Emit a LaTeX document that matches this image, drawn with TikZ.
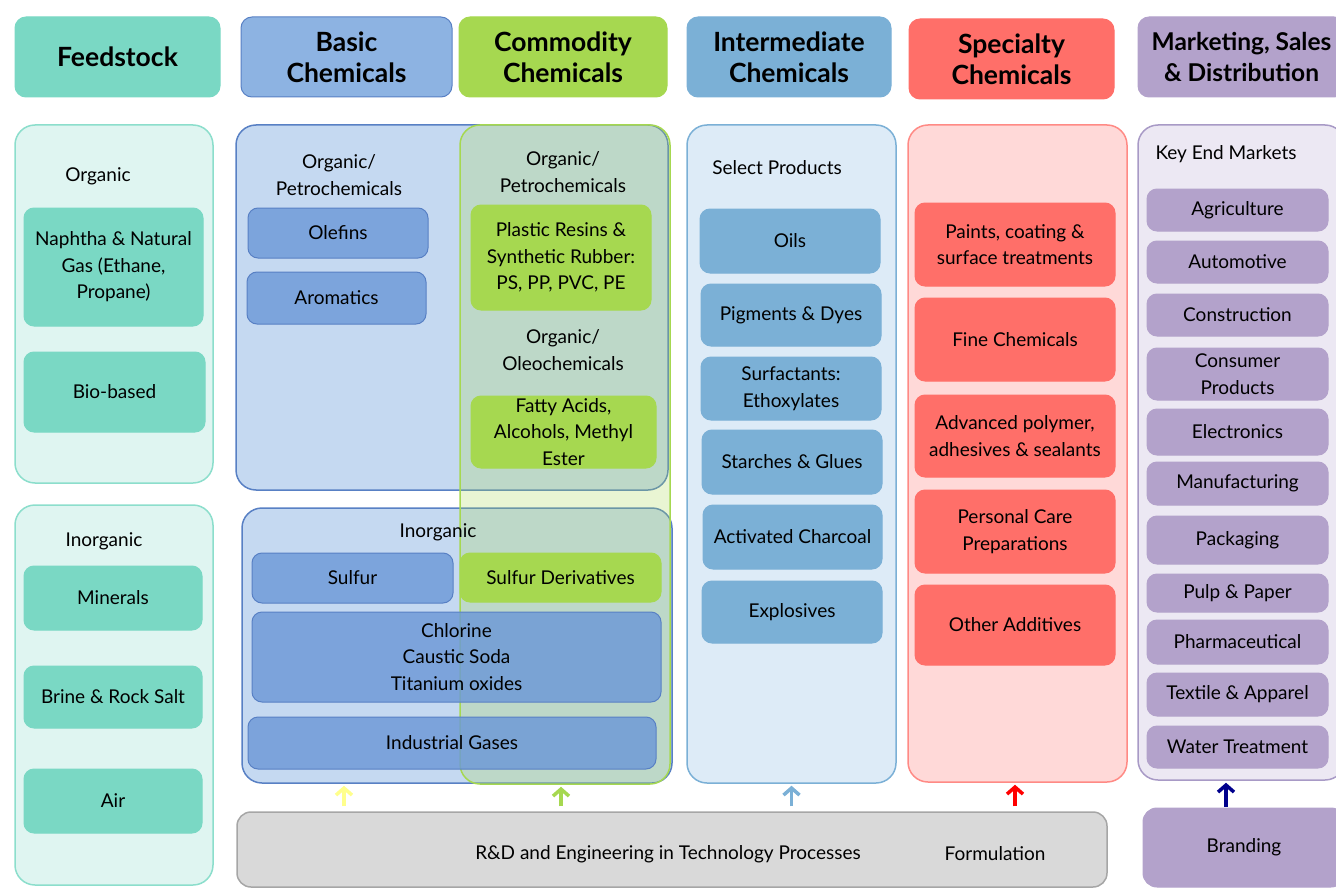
\documentclass[tikz,border=0pt]{standalone}
\usepackage{fontspec}
\setmainfont{Lato}
\usepackage{tikz}
\usetikzlibrary{arrows.meta}
\definecolor{feedfill}{RGB}{122,216,196}
\definecolor{feedpale}{RGB}{223,245,241}
\definecolor{feedline}{RGB}{140,222,204}
\definecolor{basichead}{RGB}{141,179,226}
\definecolor{basicfill}{RGB}{124,164,220}
\definecolor{basicdeep}{RGB}{108,152,215}
\definecolor{basicpale}{RGB}{197,217,241}
\definecolor{basicline}{RGB}{88,128,196}
\definecolor{comfill}{RGB}{166,216,80}
\definecolor{interfill}{RGB}{123,176,214}
\definecolor{interpale}{RGB}{221,235,247}
\definecolor{specfill}{RGB}{255,111,105}
\definecolor{specpale}{RGB}{255,217,216}
\definecolor{specline}{RGB}{255,138,133}
\definecolor{markfill}{RGB}{179,162,203}
\definecolor{markpale}{RGB}{236,232,243}
\definecolor{markline}{RGB}{168,154,198}
\definecolor{rdfill}{RGB}{217,217,217}
\definecolor{rdline}{RGB}{166,166,166}
\definecolor{navyarr}{RGB}{0,0,140}
\definecolor{palearr}{RGB}{255,255,140}
\newcommand\headfont{\fontsize{26.5}{31}\selectfont\bfseries}
\newcommand\itemfont{\fontsize{19}{26.5}\selectfont}

\begin{document}
\begin{tikzpicture}[x=1pt, y=-1pt,
  wh/.style 2 args={minimum width=#1pt, minimum height=#2pt},
  head/.style={rounded corners=11pt, inner sep=0pt, align=center,
               font=\headfont, line width=1pt},
  panel/.style={rounded corners=20pt, inner sep=0pt, line width=1.5pt},
  item/.style={rounded corners=10pt, inner sep=0pt, align=center,
               font=\itemfont, line width=1pt},
  lbl/.style={align=center, font=\itemfont, inner sep=0pt},
  up/.style={-{Straight Barb[length=7pt, width=16pt]}, line width=3.5pt,
             shorten <=5pt, shorten >=2pt},
]
\useasboundingbox (0,0) rectangle (1336,888);
\clip (0,0) rectangle (1336,888);

% column heads
\node[head, fill=feedfill, draw=feedfill, wh={205}{80}] (feedhd) at (117.5,57) {Feedstock};
\node[head, fill=basichead, draw=basicline, wh={211}{80}] (basichd) at (346.5,57) {Basic\\Chemicals};
\node[head, fill=comfill, draw=comfill, wh={208}{80}] (comhd) at (563,57) {Commodity\\Chemicals};
\node[head, fill=interfill, draw=interfill, wh={204}{80}] (interhd) at (789,57) {Intermediate\\Chemicals};
\node[head, fill=specfill, draw=specfill, wh={205}{80}] (spechd) at (1011.5,59) {Specialty\\Chemicals};
\node[head, fill=markfill, draw=markfill, wh={207}{80}, font=\fontsize{24.5}{31}\selectfont\bfseries] (markhd) at (1241.5,57) {Marketing, Sales\\\& Distribution};

% feedstock
\node[panel, fill=feedpale, draw=feedline, wh={198}{358}] (feedorg) at (114,304) {};
\node[lbl] (feedorglbl) at (98,176) {Organic};
\node[item, fill=feedfill, draw=feedfill, wh={179}{118}] (naphtha) at (113.5,267) {Naphtha \& Natural\\Gas (Ethane,\\Propane)};
\node[item, fill=feedfill, draw=feedfill, wh={181}{80}] (biobased) at (114.5,392) {Bio-based};
\node[panel, fill=feedpale, draw=feedline, wh={198}{380}] (feedinorg) at (114,695) {};
\node[lbl] (feedinorglbl) at (104,541) {Inorganic};
\node[item, fill=feedfill, draw=feedfill, wh={178}{64}] (minerals) at (113,598) {Minerals};
\node[item, fill=feedfill, draw=feedfill, wh={178}{62}] (brine) at (113,697) {Brine \& Rock Salt};
\node[item, fill=feedfill, draw=feedfill, wh={178}{64}] (air) at (113,801) {Air};

% basic chemicals
\node[panel, fill=basicpale, draw=basicline, wh={432}{365}] (basicorg) at (452,307.5) {};
\node[lbl] (basicorglbl) at (339,175) {Organic/\\Petrochemicals};
\node[item, fill=basicfill, draw=basicline, wh={180}{50}] (olefins) at (338,233) {Olefins};
\node[item, fill=basicfill, draw=basicline, wh={179}{52}] (aromatics) at (336.5,298) {Aromatics};
\node[panel, fill=basicpale, draw=basicline, wh={430}{275}] (basicinorg) at (457,645.5) {};
\node[item, fill=basicfill, draw=basicline, wh={201}{50}] (sulfur) at (352.5,578) {Sulfur};

% commodity chemicals, laid over the basic column
\node[panel, fill=comfill, fill opacity=0.25, draw=comfill, wh={210}{659}] (companel) at (565,454.5) {};
\node[lbl] (basicinorglbl) at (438,532) {Inorganic};
\node[item, fill=basicdeep, fill opacity=0.82, text opacity=1, draw=basicline, wh={409}{90}] (chlorine) at (456.5,657) {Chlorine\\Caustic Soda\\Titanium oxides};
\node[item, fill=basicdeep, fill opacity=0.82, text opacity=1, draw=basicline, wh={408}{52}] (gases) at (452,743) {Industrial Gases};
\node[lbl] (comorglbl) at (563,172) {Organic/\\Petrochemicals};
\node[item, fill=comfill, draw=comfill, wh={180}{105}] (resins) at (561,257.5) {Plastic Resins \&\\Synthetic Rubber:\\PS, PP, PVC, PE};
\node[lbl] (comoleolbl) at (563,350) {Organic/\\Oleochemicals};
\node[item, fill=comfill, draw=comfill, wh={185}{72}] (fatty) at (563.5,432) {Fatty Acids,\\Alcohols, Methyl\\Ester};
\node[item, fill=comfill, draw=comfill, wh={201}{49}] (sulfderiv) at (560.5,577.5) {Sulfur Derivatives};

% intermediate chemicals
\node[panel, fill=interpale, draw=interfill, wh={209}{658}] (interpanel) at (791.5,454) {};
\node[lbl] (selectlbl) at (777,168) {Select Products};
\node[item, fill=interfill, draw=interfill, wh={180}{64}] (oils) at (790,241) {Oils};
\node[item, fill=interfill, draw=interfill, wh={180}{62}] (pigments) at (791,315) {Pigments \& Dyes};
\node[item, fill=interfill, draw=interfill, wh={180}{63}] (surfact) at (791,388.5) {Surfactants:\\Ethoxylates};
\node[item, fill=interfill, draw=interfill, wh={180}{64}] (starches) at (792,462) {Starches \& Glues};
\node[item, fill=interfill, draw=interfill, wh={179}{64}] (charcoal) at (792.5,537) {Activated Charcoal};
\node[item, fill=interfill, draw=interfill, wh={180}{62}] (explosives) at (792,612) {Explosives};

% specialty chemicals
\node[panel, fill=specpale, draw=specline, wh={219}{657}] (specpanel) at (1017.5,453.5) {};
\node[item, fill=specfill, draw=specfill, wh={200}{83}] (paints) at (1015,244.5) {Paints, coating \&\\surface treatments};
\node[item, fill=specfill, draw=specfill, wh={200}{83}] (fine) at (1015,339.5) {Fine Chemicals};
\node[item, fill=specfill, draw=specfill, wh={200}{82}] (polymer) at (1015,436) {Advanced polymer,\\adhesives \& sealants};
\node[item, fill=specfill, draw=specfill, wh={200}{83}] (personal) at (1015,531.5) {Personal Care\\Preparations};
\node[item, fill=specfill, draw=specfill, wh={200}{80}] (other) at (1015,625) {Other Additives};

% end markets
\node[panel, fill=markpale, draw=markline, wh={207}{655}] (markpanel) at (1241.5,452.5) {};
\node[lbl] (keyend) at (1226,154) {Key End Markets};
\node[item, fill=markfill, draw=markfill, wh={181}{42}] (agri) at (1237.5,210) {Agriculture};
\node[item, fill=markfill, draw=markfill, wh={181}{42}] (auto) at (1237.5,262) {Automotive};
\node[item, fill=markfill, draw=markfill, wh={181}{42}] (constr) at (1237.5,315) {Construction};
\node[item, fill=markfill, draw=markfill, wh={181}{52}] (consumer) at (1237.5,374) {Consumer\\Products};
\node[item, fill=markfill, draw=markfill, wh={181}{46}] (electr) at (1237.5,432) {Electronics};
\node[item, fill=markfill, draw=markfill, wh={181}{43}] (manuf) at (1237.5,483.5) {Manufacturing};
\node[item, fill=markfill, draw=markfill, wh={181}{48}] (packag) at (1237.5,540) {Packaging};
\node[item, fill=markfill, draw=markfill, wh={181}{38}] (pulp) at (1237.5,593) {Pulp \& Paper};
\node[item, fill=markfill, draw=markfill, wh={181}{44}] (pharma) at (1237.5,642) {Pharmaceutical};
\node[item, fill=markfill, draw=markfill, wh={181}{43}] (textile) at (1237.5,694.5) {Textile \& Apparel};
\node[item, fill=markfill, draw=markfill, wh={181}{42}] (water) at (1237.5,747) {Water Treatment};

% bottom row
\node[panel, rounded corners=14pt, fill=rdfill, draw=rdline, wh={870}{75}] (rd) at (672,849.5) {};
\node[lbl] (rdlbl) at (668,854) {R\&D and Engineering in Technology Processes};
\node[lbl] (formlbl) at (995,854) {Formulation};
\node[item, rounded corners=14pt, fill=markfill, draw=markfill, wh={202}{79}] (branding) at (1244,847.5) {Branding};

% feeds upward
\draw[up, palearr] ([xshift=6pt]rd.north -| olefins) -- ([xshift=6pt]basicinorg.south -| olefins);
\draw[up, comfill] (rd.north -| resins) -- (companel.south -| resins);
\draw[up, interfill] (rd.north -| interpanel) -- (interpanel.south);
\draw[up, red] (rd.north -| other) -- (specpanel.south -| other);
\draw[up, navyarr, shorten <=1pt] (branding.north -| keyend) -- (markpanel.south -| keyend);
\end{tikzpicture}
\end{document}
